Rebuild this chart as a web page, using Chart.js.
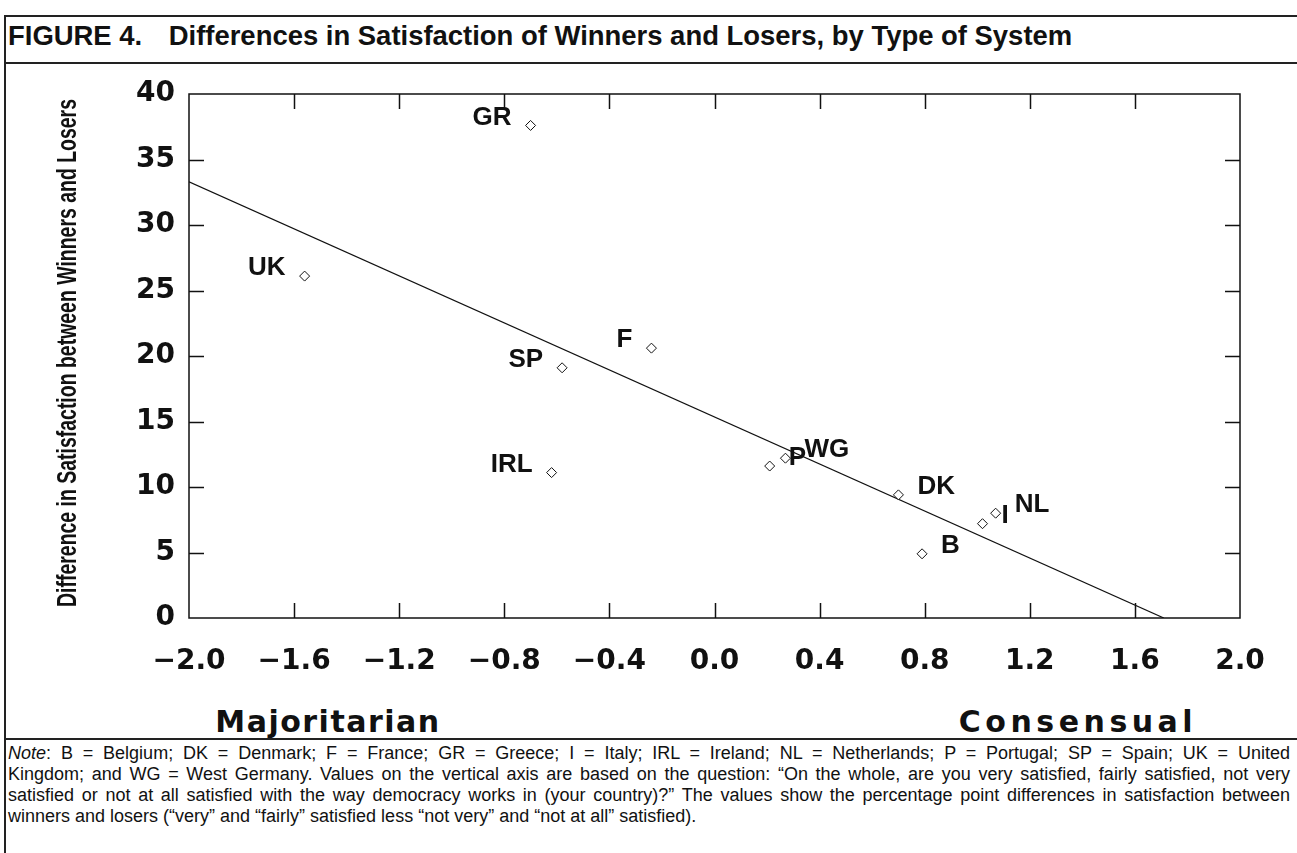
<!DOCTYPE html>
<html lang="en">
<head>
<meta charset="UTF-8">
<title>Figure 4 - Differences in Satisfaction of Winners and Losers</title>
<style>
    body { margin: 0; background: #fff; }
    .page { position: relative; width: 1297px; height: 853px; overflow: hidden; color: #111;
            font-family: "Liberation Sans", Arial, sans-serif; }
    .frame { position: absolute; left: 4px; top: 15px; right: -10px; bottom: -10px;
             border-top: 2px solid #222; border-left: 2px solid #222; }
    .rule { position: absolute; left: 4px; right: 0; border-top: 2px solid #222; }
    .title { position: absolute; left: 8px; top: 20px; line-height: 28px; white-space: nowrap;
             font: bold 28px "Liberation Sans", Arial, sans-serif;
             transform: scaleX(0.98); transform-origin: left center; }
    .title .fig { display: inline-block; width: 164px; }
    #chartBox { position: absolute; left: 0; top: 0; width: 1297px; height: 690px; }
    .side { position: absolute; top: 704px; line-height: 30px; white-space: nowrap;
            font: bold 30px "DejaVu Sans", sans-serif; transform: translateX(-50%); }
    .note { position: absolute; left: 8px; top: 743px; width: 1282px; font-size: 18px; line-height: 21px; }
    .note div { white-space: nowrap; }
</style>
</head>
<body>
<div class="page">
    <div class="frame"></div>
    <div class="title"><span class="fig">FIGURE 4.</span>Differences in Satisfaction of Winners and Losers, by Type of System</div>
    <div class="rule" style="top: 62px"></div>

    <div id="chartBox"><canvas id="fig4"></canvas></div>

    <div class="side" style="left: 328px; letter-spacing: 1.5px">Majoritarian</div>
    <div class="side" style="left: 1078px; letter-spacing: 4.5px">Consensual</div>

    <div class="rule" style="top: 738px"></div>
    <div class="note">
        <div class="ln"><i>Note</i>: B = Belgium; DK = Denmark; F = France; GR = Greece; I = Italy; IRL = Ireland; NL = Netherlands; P = Portugal; SP = Spain; UK = United</div>
        <div class="ln">Kingdom; and WG = West Germany. Values on the vertical axis are based on the question: “On the whole, are you very satisfied, fairly satisfied, not very</div>
        <div class="ln">satisfied or not at all satisfied with the way democracy works in (your country)?” The values show the percentage point differences in satisfaction between</div>
        <div>winners and losers (“very” and “fairly” satisfied less “not very” and “not at all” satisfied).</div>
    </div>
</div>

<script src="https://cdn.jsdelivr.net/npm/chart.js"></script>
<script>
    // countries, x = type of system (majoritarian -> consensual), y = winner/loser gap
    const countries = ['GR', 'UK', 'F', 'SP', 'IRL', 'P', 'WG', 'DK', 'B', 'I', 'NL'];
    const systemScore = [-0.70, -1.56, -0.24, -0.58, -0.62, 0.21, 0.27, 0.70, 0.79, 1.02, 1.07];
    const satisfactionGap = [37.6, 26.1, 20.6, 19.1, 11.1, 11.6, 12.2, 9.4, 4.9, 7.2, 8.0];

    // fitted line, end points
    const fitX = [-2.0, 1.71];
    const fitY = [33.3, 0];

    const xTicks = { min: -2.0, max: 2.0, step: 0.4 };
    const yTicks = { min: 0, max: 40, step: 5 };
    const yTitle = 'Difference in Satisfaction between Winners and Losers';

    // which side of the marker the country code goes
    const labelSide = ['left', 'left', 'left', 'left', 'left', 'right', 'right', 'right', 'right', 'right', 'right'];

    // tidy justified lines of the note
    document.querySelectorAll('.note .ln').forEach(el => {
        const target = 1282;
        const spaces = (el.textContent.match(/ /g) || []).length;
        const range = document.createRange();
        range.selectNodeContents(el);
        const natural = range.getBoundingClientRect().width;
        el.style.wordSpacing = ((target - natural) / spaces) + 'px';
    });

    // ticks pointing inwards on all four sides, plus the box
    const frameTicks = {
        id: 'frameTicks',
        afterDatasetsDraw(chart) {
            const { ctx, chartArea: a, scales } = chart;
            const len = 15;
            ctx.save();
            ctx.strokeStyle = '#111';
            ctx.lineWidth = 1.5;
            ctx.strokeRect(a.left, a.top, a.right - a.left, a.bottom - a.top);
            ctx.beginPath();
            scales.x.ticks.forEach(t => {
                const px = Math.round(scales.x.getPixelForValue(t.value)) + 0.5;
                if (px <= a.left + 1 || px >= a.right - 1) return;
                ctx.moveTo(px, a.bottom); ctx.lineTo(px, a.bottom - len);
                ctx.moveTo(px, a.top); ctx.lineTo(px, a.top + len);
            });
            scales.y.ticks.forEach(t => {
                const py = Math.round(scales.y.getPixelForValue(t.value)) + 0.5;
                if (py <= a.top + 1 || py >= a.bottom - 1) return;
                ctx.moveTo(a.left, py); ctx.lineTo(a.left + len, py);
                ctx.moveTo(a.right, py); ctx.lineTo(a.right - len, py);
            });
            ctx.stroke();
            ctx.restore();
        }
    };

    // condensed, rotated title of the y axis (no narrow font installed, so squeeze it)
    const yAxisTitle = {
        id: 'yAxisTitle',
        afterDraw(chart) {
            const { ctx, scales } = chart;
            const cy = (scales.y.top + scales.y.bottom) / 2 - 3;
            ctx.save();
            ctx.font = 'bold 28px "Liberation Sans", Arial, sans-serif';
            ctx.fillStyle = '#111';
            ctx.textAlign = 'center';
            ctx.textBaseline = 'middle';
            const w = ctx.measureText(yTitle).width;
            ctx.translate(68, cy);
            ctx.rotate(-Math.PI / 2);
            ctx.scale(508 / w, 1);
            ctx.fillText(yTitle, 0, 0);
            ctx.restore();
        }
    };

    // country codes beside the markers
    const pointLabels = {
        id: 'pointLabels',
        afterDatasetsDraw(chart) {
            const { ctx } = chart;
            const meta = chart.getDatasetMeta(0);
            ctx.save();
            ctx.fillStyle = '#111';
            ctx.font = 'bold 26px "Liberation Sans", Arial, sans-serif';
            ctx.textBaseline = 'middle';
            meta.data.forEach((pt, i) => {
                const left = labelSide[i] === 'left';
                ctx.textAlign = left ? 'right' : 'left';
                ctx.fillText(countries[i], pt.x + (left ? -19 : 19), pt.y - 8);
            });
            ctx.restore();
        }
    };

    const tickFont = { family: '"DejaVu Sans", sans-serif', size: 28, weight: 'bold' };

    new Chart(document.getElementById('fig4'), {
        type: 'scatter',
        data: {
            datasets: [{
                label: 'Countries',
                data: countries.map((c, i) => ({ x: systemScore[i], y: satisfactionGap[i] })),
                pointStyle: 'rectRot',
                pointRadius: 5,
                borderColor: '#111',
                backgroundColor: '#fff',
                borderWidth: 1
            }, {
                type: 'line',
                label: 'Fit',
                data: fitX.map((x, i) => ({ x: x, y: fitY[i] })),
                borderColor: '#111',
                borderWidth: 1.2,
                pointRadius: 0,
                fill: false
            }]
        },
        options: {
            responsive: true,
            maintainAspectRatio: false,
            animation: false,
            layout: { padding: { top: 94, right: 57, bottom: 0, left: 0 } },
            plugins: { legend: { display: false }, tooltip: { enabled: false } },
            scales: {
                x: {
                    type: 'linear',
                    min: xTicks.min,
                    max: xTicks.max,
                    afterFit: s => { s.height = 72; },
                    grid: { display: false },
                    border: { display: false },
                    ticks: {
                        stepSize: xTicks.step,
                        color: '#111',
                        font: tickFont,
                        padding: 19,
                        maxRotation: 0,
                        callback: v => Math.abs(v) < 1e-9 ? '0.0' : (v < 0 ? '\u2212' : '') + Math.abs(v).toFixed(1)
                    }
                },
                y: {
                    min: yTicks.min,
                    max: yTicks.max,
                    afterFit: s => { s.width = 189; },
                    grid: { display: false },
                    border: { display: false },
                    ticks: { stepSize: yTicks.step, color: '#111', font: tickFont, padding: 6 }
                }
            }
        },
        plugins: [frameTicks, pointLabels, yAxisTitle]
    });
</script>
</body>
</html>
